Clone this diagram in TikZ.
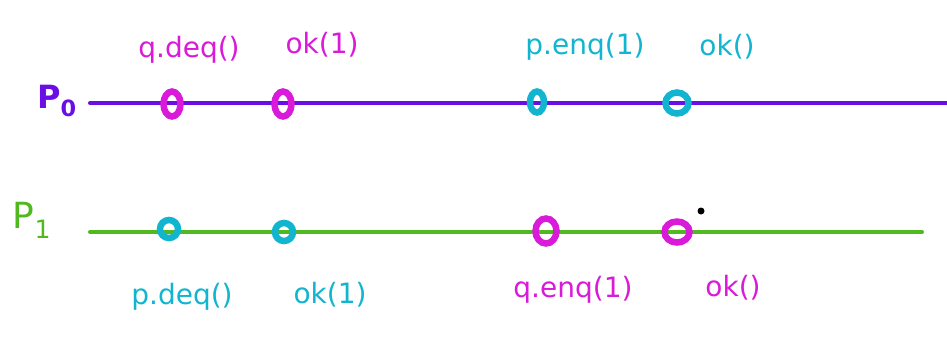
\documentclass[tikz,border=0pt]{standalone}
\usepackage{fontspec}
\setmainfont{DejaVu Sans}
\usetikzlibrary{shapes.geometric}
\definecolor{purp}{HTML}{6A0EE6}
\definecolor{grn}{HTML}{52B820}
\definecolor{mag}{HTML}{D91AD9}
\definecolor{cya}{HTML}{12B5D0}
\tikzset{
  tl/.style={line width=4pt, line cap=round},
  ev/.style={draw, ellipse, line width=6.5pt, inner sep=0pt, minimum width=17pt, minimum height=25pt},
  lab/.style={font=\fontsize{28}{30}\selectfont, inner sep=0pt},
  pl/.style={font=\fontsize{32}{34}\selectfont\bfseries, inner sep=0pt}
}
\begin{document}
\begin{tikzpicture}[x=1pt,y=-1pt]
\useasboundingbox (0,0) rectangle (947,341);
% timelines
\coordinate (p0s) at (90,103);
\coordinate (p0e) at (947,103);
\coordinate (p1s) at (90,232);
\coordinate (p1e) at (922,232);
\draw[tl, purp] (p0s) -- (p0e);
\draw[tl, grn] (p1s) -- (p1e);
% process labels
\node[pl, text=purp] (P0) at (57,101) {P\textsubscript{0}};
\node[pl, text=grn, font=\fontsize{36}{38}\selectfont] (P1) at (32,220) {P\textsubscript{1}};
% events P0
\node[ev, mag] (a1) at (172,104) {};
\node[ev, mag] (a2) at (283,104) {};
\node[ev, cya, minimum width=14pt, minimum height=21pt] (a3) at (537,102) {};
\node[ev, cya, minimum width=23pt, minimum height=21pt] (a4) at (677,103) {};
% events P1
\node[ev, cya, minimum width=18pt, minimum height=18pt] (b1) at (169,229) {};
\node[ev, cya, minimum width=18pt, minimum height=18pt] (b2) at (284,232) {};
\node[ev, mag, minimum width=21pt, minimum height=25pt] (b3) at (546,231) {};
\node[ev, mag, minimum width=25pt, minimum height=21pt] (b4) at (677,232) {};
\fill (701,211) circle (3.5pt);
% labels top
\node[lab, text=mag] (la1) at (189,50) {q.deq()};
\node[lab, text=mag] (la2) at (322,45) {ok(1)};
\node[lab, text=cya] (la3) at (585,47) {p.enq(1)};
\node[lab, text=cya] (la4) at (727,47) {ok()};
% labels bottom
\node[lab, text=cya] (lb1) at (182,297) {p.deq()};
\node[lab, text=cya] (lb2) at (330,295) {ok(1)};
\node[lab, text=mag] (lb3) at (573,290) {q.enq(1)};
\node[lab, text=mag] (lb4) at (733,288) {ok()};
\end{tikzpicture}
\end{document}
